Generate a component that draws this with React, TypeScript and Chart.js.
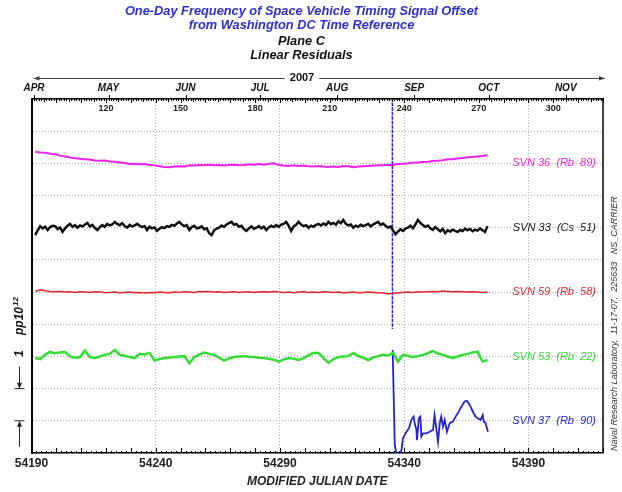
import React, { useEffect, useRef } from 'react';
import { Chart, registerables } from 'chart.js';

Chart.register(...registerables);

const FONT = '"Liberation Sans", Arial, Helvetica, sans-serif';

// ---- Axis definitions -------------------------------------------------
const mjdMin = 54190;
const mjdMax = 54420;
const yearStartMjd = 54100; // MJD of day 0 of 2007 (Jan 1 = day 1)
const monthNames = ['APR', 'MAY', 'JUN', 'JUL', 'AUG', 'SEP', 'OCT', 'NOV'];
const monthStartDays = [91, 121, 152, 182, 213, 244, 274, 305];
const dayOfYearLabels = [120, 150, 180, 210, 240, 270, 300];

// ---- Series -----------------------------------------------------------
const firstSampleMjd = 54191.5;

// SVN 33 (Cs 51): daily linear residuals, pp10^12
const svn33Residuals = [
  -0.23, -0.08, 0.05, -0.02, 0.03, -0.07, 0.02, 0.06, 0.05, -0.04,
  0.01, -0.13, -0.02, 0.06, 0.12, 0.03, 0.08, 0.0, 0.07, 0.04,
  0.1, 0.15, 0.04, 0.09, -0.01, -0.07, 0.02, 0.08, 0.03, 0.12,
  0.07, 0.1, 0.18, 0.12, 0.08, 0.14, 0.05, 0.0, 0.09, 0.04,
  0.07, 0.12, 0.06, 0.02, 0.05, -0.07, 0.03, -0.02, 0.01, -0.1,
  -0.03, 0.02, -0.01, 0.05, 0.03, 0.09, 0.06, 0.13, 0.18, 0.1,
  0.05, 0.08, -0.07, 0.02, 0.06, -0.02, 0.0, 0.04, -0.05, -0.02,
  -0.17, -0.23, -0.08, -0.03, 0.0, 0.07, 0.03, 0.1, 0.14, 0.18,
  0.09, 0.12, 0.03, 0.06, -0.04, -0.1, -0.02, 0.04, -0.03, 0.0,
  0.05, -0.02, 0.03, -0.07, 0.01, 0.06, 0.02, 0.08, 0.03, 0.1,
  0.12, 0.18, 0.06, -0.1, 0.04, 0.09, 0.18, 0.1, 0.05, 0.08,
  0.0, 0.06, 0.03, 0.09, 0.12, 0.07, 0.13, 0.08, 0.18, 0.11,
  0.15, 0.09, 0.2, 0.14, 0.24, 0.12, 0.07, 0.1, 0.0, 0.06,
  0.03, 0.09, 0.05, 0.08, 0.12, 0.04, 0.1, 0.14, 0.18, 0.09,
  0.13, 0.06, 0.0, 0.04, -0.08, -0.2, -0.12, -0.05, -0.1, -0.03,
  0.0, 0.06, -0.02, 0.1, 0.24, 0.15, 0.08, 0.03, 0.07, -0.02,
  -0.07, 0.02, -0.05, -0.11, -0.04, -0.17, -0.08, -0.12, -0.06, -0.1,
  -0.13, -0.07, -0.1, -0.03, -0.08, -0.04, -0.11, -0.06, -0.09, -0.02,
  -0.08, -0.13, 0.05,
];

// SVN 36 (Rb 89): two-day linear residuals, pp10^12
const svn36Residuals = [
  0.36, 0.34, 0.33, 0.3, 0.28, 0.24, 0.21, 0.18, 0.16, 0.14,
  0.13, 0.12, 0.09, 0.08, 0.09, 0.06, 0.05, 0.03, 0.01, -0.02,
  -0.01, -0.03, -0.02, -0.05, -0.06, -0.09, -0.11, -0.12, -0.1, -0.09,
  -0.1, -0.06, -0.07, -0.05, -0.06, -0.04, -0.06, -0.05, -0.07, -0.05,
  -0.04, -0.06, -0.05, -0.03, -0.04, -0.02, -0.04, -0.01, 0.0, -0.05,
  -0.07, -0.08, -0.06, -0.08, -0.07, -0.09, -0.1, -0.08, -0.1, -0.11,
  -0.1, -0.11, -0.08, -0.09, -0.12, -0.1, -0.09, -0.08, -0.07, -0.06,
  -0.06, -0.04, -0.05, -0.02, -0.01, 0.0, 0.02, 0.03, 0.04, 0.05,
  0.07, 0.08, 0.1, 0.13, 0.13, 0.15, 0.17, 0.19, 0.2, 0.21,
  0.23, 0.26,
];

// SVN 59 (Rb 58): two-day linear residuals, pp10^12
const svn59Residuals = [
  0.02, 0.07, 0.04, 0.02, 0.01, 0.02, 0.0, 0.01, -0.01, 0.01,
  0.0, -0.01, 0.01, 0.0, -0.02, -0.01, 0.0, -0.02, -0.01, 0.0,
  -0.02, -0.01, -0.03, -0.01, -0.02, 0.0, -0.01, -0.02, 0.0, -0.01,
  0.01, 0.0, -0.01, 0.02, 0.01, 0.02, 0.0, 0.01, -0.01, 0.0,
  0.01, -0.01, 0.0, 0.01, -0.01, 0.0, 0.01, 0.0, 0.02, 0.0,
  -0.01, 0.0, -0.02, 0.0, 0.01, -0.01, 0.0, -0.01, 0.01, 0.0,
  -0.01, 0.0, -0.02, -0.01, 0.0, -0.02, -0.01, 0.0, -0.01, -0.02,
  -0.03, -0.05, -0.04, -0.02, -0.01, 0.0, -0.01, 0.01, 0.0, 0.01,
  0.02, 0.01, 0.03, 0.02, 0.01, 0.02, 0.01, 0.0, 0.01, 0.0,
  -0.01, 0.0,
];

// SVN 53 (Rb 22): two-day linear residuals, pp10^12
const svn53Residuals = [
  -0.05, -0.08, 0.06, 0.14, 0.1, 0.12, 0.14, 0.0, -0.04, -0.02,
  0.18, -0.02, -0.05, 0.0, 0.05, 0.08, 0.2, 0.05, 0.02, -0.02,
  -0.05, 0.08, 0.06, 0.11, -0.13, -0.08, -0.05, -0.03, -0.02, 0.0,
  0.01, -0.21, -0.02, 0.06, 0.12, 0.08, 0.05, -0.04, -0.13, -0.06,
  -0.02, 0.0, 0.01, -0.01, -0.02, -0.04, -0.05, -0.07, -0.1, -0.16,
  -0.09, -0.05, -0.07, -0.11, -0.05, 0.04, 0.11, 0.11, -0.05, -0.2,
  -0.08, -0.02, 0.0, 0.01, 0.11, 0.01, -0.04, -0.11, -0.03, 0.01,
  0.05, 0.03, 0.11, -0.16, 0.05, 0.02, -0.02, 0.01, 0.05, 0.1,
  0.17, 0.09, 0.05, 0.0, -0.05, 0.0, 0.05, 0.08, 0.12, 0.15,
  -0.16, -0.11,
];

// SVN 37 (Rb 90): irregular samples after the clock event (null = data gap)
const svn37Mjd = [
  54335.2, 54335.25, 54335.3, 54335.35, 54336.2, 54337.5, 54338.9, 54339.5,
  54340.9, 54341.9, 54342.9, 54343.8, 54344.2, 54344.9, 54345.1, 54345.9,
  54346.5, 54346.9, 54347.6, 54348.9, 54350.2, 54351.6, 54352.2, 54352.9,
  54353.6, 54354.3, 54354.9, 54355.6, 54356.3, 54357.2, 54358.3, 54359.6,
  54360.7, 54361.6, 54363.0, 54364.3, 54365.2, 54366.3, 54367.6, 54368.7,
  54369.6, 54370.7, 54371.6, 54372.0, 54372.7, 54373.7,
];
const svn37Residuals = [
  10.3, 2.85, null, 2.2, -0.75, -1.3, -0.9, -0.54,
  -0.34, -0.23, 0.03, 0.13, -0.07, -0.28, -0.6, 0.08,
  0.13, -0.49, -0.39, -0.39, -0.34, -0.28, 0.18, -0.23,
  -0.65, -0.07, 0.13, -0.18, 0.03, -0.34, -0.07, -0.02,
  0.13, 0.24, 0.44, 0.6, 0.62, 0.5, 0.29, 0.13,
  0.08, 0.03, 0.18, -0.02, -0.07, -0.34,
];

const seriesLabels = ['SVN 36  (Rb  89)', 'SVN 33  (Cs  51)', 'SVN 59  (Rb  58)', 'SVN 53  (Rb  22)', 'SVN 37  (Rb  90)'];
// vertical stacking of each trace in the plot, in pp10^12
const stackOffsets = [9, 7, 5, 3, 1];
const seriesColors = ['#ee22ee', '#111111', '#e2262b', '#33dd33', '#2323cc'];
const seriesWidths = [2, 2.5, 1.5, 2.5, 1.8];

const footerNote = 'Naval Research Laboratory,  11-17-07,  225633   NS_CARRIER';

const toPoints = (vals: number[], step: number, offset: number) =>
  vals.map((r, i) => ({ x: firstSampleMjd + i * step, y: r + offset }));

const decorPlugin = {
  id: 'clockDecor',
  afterDatasetsDraw(chart: any) {
    const { ctx, chartArea: a, scales } = chart;
    const xs = scales.x;
    const ys = scales.y;
    ctx.save();
    ctx.strokeStyle = '#000';

    // right frame
    ctx.lineWidth = 1.5;
    ctx.beginPath();
    ctx.moveTo(a.right, a.top);
    ctx.lineTo(a.right, a.bottom);
    ctx.stroke();

    // top ruler: daily ticks inward
    ctx.lineWidth = 1;
    for (let d = 91; d <= 320; d++) {
      const px = Math.round(xs.getPixelForValue(yearStartMjd + d)) + 0.5;
      const len = d % 10 === 0 ? 4 : d % 5 === 0 ? 3 : 2;
      ctx.beginPath();
      ctx.moveTo(px, a.top);
      ctx.lineTo(px, a.top + len);
      ctx.stroke();
    }
    // month starts: ticks up to the month names
    monthStartDays.forEach((d) => {
      const px = Math.round(xs.getPixelForValue(yearStartMjd + d)) + 0.5;
      ctx.beginPath();
      ctx.moveTo(px, a.top - 4);
      ctx.lineTo(px, a.top);
      ctx.stroke();
    });
    // day of year numbers
    ctx.fillStyle = '#222';
    ctx.font = `bold 9px ${FONT}`;
    ctx.textAlign = 'center';
    ctx.textBaseline = 'middle';
    dayOfYearLabels.forEach((d) => {
      ctx.fillText(String(d), xs.getPixelForValue(yearStartMjd + d), a.top + 10);
    });

    // bottom ruler ticks inward
    for (let m = mjdMin; m <= mjdMax; m += 2) {
      const px = Math.round(xs.getPixelForValue(m)) + 0.5;
      const len = (m - mjdMin) % 10 === 0 ? 5 : 2;
      ctx.beginPath();
      ctx.moveTo(px, a.bottom);
      ctx.lineTo(px, a.bottom - len);
      ctx.stroke();
    }

    // series names at the right end of each trace
    ctx.font = `italic 11px ${FONT}`;
    ctx.textAlign = 'right';
    ctx.textBaseline = 'middle';
    seriesLabels.forEach((s, i) => {
      ctx.fillStyle = seriesColors[i];
      ctx.fillText(s, a.right - 7, ys.getPixelForValue(stackOffsets[i]));
    });
    ctx.restore();
  },
  afterDraw(chart: any) {
    const { ctx, chartArea: a, scales } = chart;
    const ys = scales.y;
    ctx.save();
    ctx.strokeStyle = '#000';
    ctx.fillStyle = '#000';
    ctx.lineWidth = 1;

    // year banner with arrows
    const yearY = 78;
    const yearX = 302;
    ctx.font = `bold 11px ${FONT}`;
    ctx.textAlign = 'center';
    ctx.textBaseline = 'middle';
    ctx.fillStyle = '#111';
    ctx.fillText('2007', yearX, yearY);
    const half = ctx.measureText('2007').width / 2 + 5;
    const lx = a.left + 2;
    const rx = a.right + 2;
    ctx.strokeStyle = '#444';
    ctx.beginPath();
    ctx.moveTo(lx, yearY + 0.5);
    ctx.lineTo(yearX - half, yearY + 0.5);
    ctx.moveTo(yearX + half, yearY + 0.5);
    ctx.lineTo(rx, yearY + 0.5);
    ctx.stroke();
    ctx.fillStyle = '#444';
    ctx.beginPath();
    ctx.moveTo(lx, yearY + 0.5);
    ctx.lineTo(lx + 6, yearY - 2);
    ctx.lineTo(lx + 6, yearY + 2.5);
    ctx.closePath();
    ctx.fill();
    ctx.beginPath();
    ctx.moveTo(rx, yearY + 0.5);
    ctx.lineTo(rx - 6, yearY - 2);
    ctx.lineTo(rx - 6, yearY + 2.5);
    ctx.closePath();
    ctx.fill();

    // scale bar: one grid step equals 1 pp10^12
    const cx = 19.5;
    const yTwo = ys.getPixelForValue(2);
    const yOne = ys.getPixelForValue(1);
    ctx.strokeStyle = '#222';
    ctx.fillStyle = '#222';
    ctx.beginPath();
    ctx.moveTo(cx, yTwo - 22);
    ctx.lineTo(cx, yTwo - 4);
    ctx.moveTo(cx - 5, yTwo);
    ctx.lineTo(cx + 5, yTwo);
    ctx.moveTo(cx, yOne + 4);
    ctx.lineTo(cx, yOne + 26);
    ctx.moveTo(cx - 5, yOne);
    ctx.lineTo(cx + 5, yOne);
    ctx.stroke();
    ctx.beginPath();
    ctx.moveTo(cx, yTwo);
    ctx.lineTo(cx - 2.5, yTwo - 6);
    ctx.lineTo(cx + 2.5, yTwo - 6);
    ctx.closePath();
    ctx.fill();
    ctx.beginPath();
    ctx.moveTo(cx, yOne);
    ctx.lineTo(cx - 2.5, yOne + 6);
    ctx.lineTo(cx + 2.5, yOne + 6);
    ctx.closePath();
    ctx.fill();

    // unit label, reading upward
    ctx.translate(20, 357);
    ctx.rotate(-Math.PI / 2);
    ctx.textAlign = 'left';
    ctx.textBaseline = 'middle';
    ctx.font = `bold italic 12px ${FONT}`;
    ctx.fillStyle = '#111';
    ctx.fillText('1', 0, 0);
    ctx.fillText('pp10', 22, 0);
    const w = ctx.measureText('pp10').width;
    ctx.font = `bold italic 8px ${FONT}`;
    ctx.fillText('12', 22 + w + 1, -4);
    ctx.restore();

    // provenance note along the right edge
    ctx.save();
    ctx.translate(614, a.bottom - 2);
    ctx.rotate(-Math.PI / 2);
    ctx.font = `italic 9px ${FONT}`;
    ctx.fillStyle = '#333';
    ctx.textAlign = 'left';
    ctx.textBaseline = 'middle';
    ctx.fillText(footerNote, 0, 0);
    ctx.restore();
  },
};

export default function App() {
  const canvasRef = useRef<HTMLCanvasElement | null>(null);

  useEffect(() => {
    document.body.style.margin = '0';
    document.body.style.background = '#fff';
    const canvas = canvasRef.current;
    if (!canvas) return;

    const gridColor = (ctx: any) => {
      const v = ctx.tick ? ctx.tick.value : null;
      return v !== null && (v - mjdMin) % 50 === 0 && v !== mjdMin ? '#b0b0b0' : 'rgba(0,0,0,0)';
    };

    const line = (label: string, data: any[], i: number) => ({
      label,
      data,
      borderColor: seriesColors[i],
      backgroundColor: seriesColors[i],
      borderWidth: seriesWidths[i],
      pointRadius: 0,
      tension: 0,
      fill: false,
      clip: 0,
      spanGaps: false,
    });

    const svn37Points = svn37Mjd.map((m, i) => ({
      x: m,
      y: svn37Residuals[i] === null ? null : (svn37Residuals[i] as number) + stackOffsets[4],
    }));

    const titleFont = { family: FONT, size: 12.8, weight: 'bold', style: 'italic', lineHeight: 14 / 12.8 };

    const chart = new Chart(canvas, {
      type: 'line',
      data: {
        datasets: [
          line(seriesLabels[0], toPoints(svn36Residuals, 2, stackOffsets[0]), 0),
          line(seriesLabels[1], toPoints(svn33Residuals, 1, stackOffsets[1]), 1),
          line(seriesLabels[2], toPoints(svn59Residuals, 2, stackOffsets[2]), 2),
          line(seriesLabels[3], toPoints(svn53Residuals, 2, stackOffsets[3]), 3),
          {
            ...line(seriesLabels[4], svn37Points, 4),
            segment: {
              borderDash: (c: any) => (c.p0DataIndex === 0 ? [1.5, 3] : undefined),
              borderWidth: (c: any) => (c.p0DataIndex === 0 ? 1.5 : undefined),
            },
          },
        ],
      },
      options: {
        animation: false,
        responsive: false,
        parsing: false as any,
        normalized: true,
        layout: { padding: { left: 0, right: 19, top: 0, bottom: 0 } },
        plugins: {
          legend: { display: false },
          tooltip: { enabled: false },
          title: {
            display: true,
            text: ['One-Day Frequency of Space Vehicle Timing Signal Offset', 'from Washington DC Time Reference'],
            color: '#2e2ed0',
            font: titleFont,
            padding: { top: 4, bottom: 2 },
          },
          subtitle: {
            display: true,
            text: ['Plane C', 'Linear Residuals'],
            color: '#111',
            font: titleFont,
            padding: { top: 0, bottom: 0 },
          },
        },
        scales: {
          x: {
            type: 'linear',
            position: 'bottom',
            min: mjdMin,
            max: mjdMax,
            afterFit: (s: any) => {
              s.height = 39;
            },
            ticks: {
              stepSize: 10,
              autoSkip: false,
              maxRotation: 0,
              padding: 3,
              color: '#222',
              font: { family: FONT, size: 12, weight: 'bold' },
              callback: (v: any) => ((Number(v) - mjdMin) % 50 === 0 ? String(v) : ''),
            },
            grid: {
              color: gridColor,
              lineWidth: 1,
              drawTicks: false,
            },
            border: { display: true, color: '#000', width: 1.5, dash: [1, 2] as any },
            title: {
              display: true,
              text: 'MODIFIED JULIAN DATE',
              color: '#222',
              font: { family: FONT, size: 12, weight: 'bold', style: 'italic' },
              padding: { top: 0, bottom: 3 },
            },
          },
          x2: {
            type: 'linear',
            position: 'top',
            min: mjdMin,
            max: mjdMax,
            afterFit: (s: any) => {
              s.height = 37;
            },
            afterBuildTicks: (s: any) => {
              s.ticks = monthStartDays.map((d) => ({ value: yearStartMjd + d }));
            },
            ticks: {
              autoSkip: false,
              maxRotation: 0,
              padding: 5,
              color: '#111',
              font: { family: FONT, size: 10, weight: 'bold', style: 'italic' },
              callback: (_v: any, i: number) => monthNames[i],
            },
            grid: { display: false, drawTicks: false },
            border: { display: true, color: '#000', width: 1.5 },
          },
          y: {
            type: 'linear',
            min: 0,
            max: 11,
            afterFit: (s: any) => {
              s.width = 31.5;
            },
            ticks: { stepSize: 1, display: false },
            grid: { color: '#b0b0b0', lineWidth: 1, drawTicks: false },
            border: { display: true, color: '#000', width: 2, dash: [1, 2] as any },
          },
        },
      },
      plugins: [decorPlugin],
    } as any);

    return () => chart.destroy();
  }, []);

  return (
    <div style={{ width: 622, height: 492, background: '#fff' }}>
      <canvas ref={canvasRef} width={622} height={492} style={{ display: 'block' }} />
    </div>
  );
}
